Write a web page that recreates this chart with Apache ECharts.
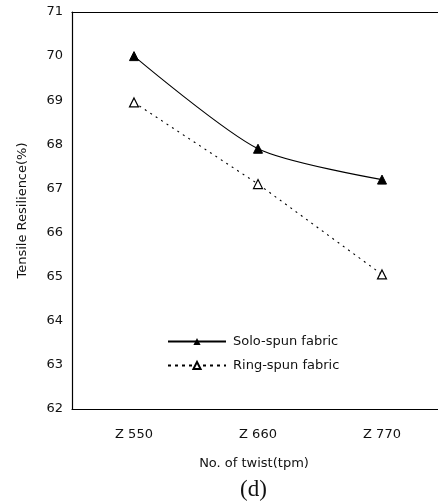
<!DOCTYPE html>
<html><head><meta charset="utf-8">
<script src="https://cdn.jsdelivr.net/npm/echarts@6/dist/echarts.min.js"></script>
<style>html,body{margin:0;padding:0;background:#fff;overflow:hidden;width:438px;height:501px}#c{width:450px;height:501px}</style>
</head><body><div id="c"></div>
<script>
const categories = ['Z 550', 'Z 660', 'Z 770'];
const soloSpun = [70.0, 67.9, 67.2];
const ringSpun = [68.95, 67.1, 65.05];
const yTicks = [62, 63, 64, 65, 66, 67, 68, 69, 70, 71];

const chart = echarts.init(document.getElementById('c'), null, {renderer: 'canvas'});
const font = '"DejaVu Sans", Verdana, sans-serif';
chart.setOption({
  animation: false,
  backgroundColor: '#fff',
  textStyle: {fontFamily: font},
  grid: {left: 72, top: 12, width: 372, bottom: 92},
  legend: {
    orient: 'vertical', left: 162, top: 330, itemWidth: 58, itemHeight: 9, itemGap: 11,
    textStyle: {fontFamily: font, fontSize: 13, color: '#111', padding: [0,0,0,2]},
    data: [
      {name: 'Solo-spun fabric'},
      {name: 'Ring-spun fabric', lineStyle: {type: [3, 4]}}
    ]
  },
  xAxis: [{
    type: 'category', data: categories, boundaryGap: true,
    axisLine: {lineStyle: {color: '#000', width: 1.2}},
    axisTick: {show: false},
    axisLabel: {color: '#111', fontSize: 13, margin: 19, fontFamily: font},
    name: 'No. of twist(tpm)', nameLocation: 'middle', nameGap: 48,
    nameTextStyle: {color: '#111', fontSize: 13, fontFamily: font, padding: [0, 8, 0, 0]}
  }, {
    type: 'category', data: categories, position: 'top',
    axisLine: {lineStyle: {color: '#000', width: 1.2}},
    axisTick: {show: false}, axisLabel: {show: false}
  }],
  yAxis: {
    type: 'value', min: yTicks[0], max: yTicks[yTicks.length - 1], interval: 1,
    axisLine: {show: true, lineStyle: {color: '#000', width: 1.2}},
    axisTick: {show: false}, splitLine: {show: false},
    axisLabel: {color: '#111', fontSize: 13, margin: 9, fontFamily: font},
    name: 'Tensile Resilience(%)', nameLocation: 'middle', nameGap: 43,
    nameTextStyle: {color: '#111', fontSize: 13, fontFamily: font, padding: [0, 0, 0, 0]}
  },
  graphic: [{
    type: 'text', left: 240, top: 478,
    style: {text: '(d)', font: '23px "Liberation Serif", "DejaVu Serif", serif', fill: '#111'}
  }],
  series: [{
    name: 'Solo-spun fabric', type: 'line', data: soloSpun, smooth: 0.25,
    symbol: 'triangle', symbolSize: 9,
    lineStyle: {color: '#000', width: 1.1},
    itemStyle: {color: '#000', borderColor: '#000'}
  }, {
    name: 'Ring-spun fabric', type: 'line', data: ringSpun,
    symbol: 'triangle', symbolSize: 9,
    lineStyle: {color: '#000', width: 1.1, type: [2, 4.5]},
    itemStyle: {color: '#fff', borderColor: '#000', borderWidth: 1.2}
  }]
});
</script></body></html>
